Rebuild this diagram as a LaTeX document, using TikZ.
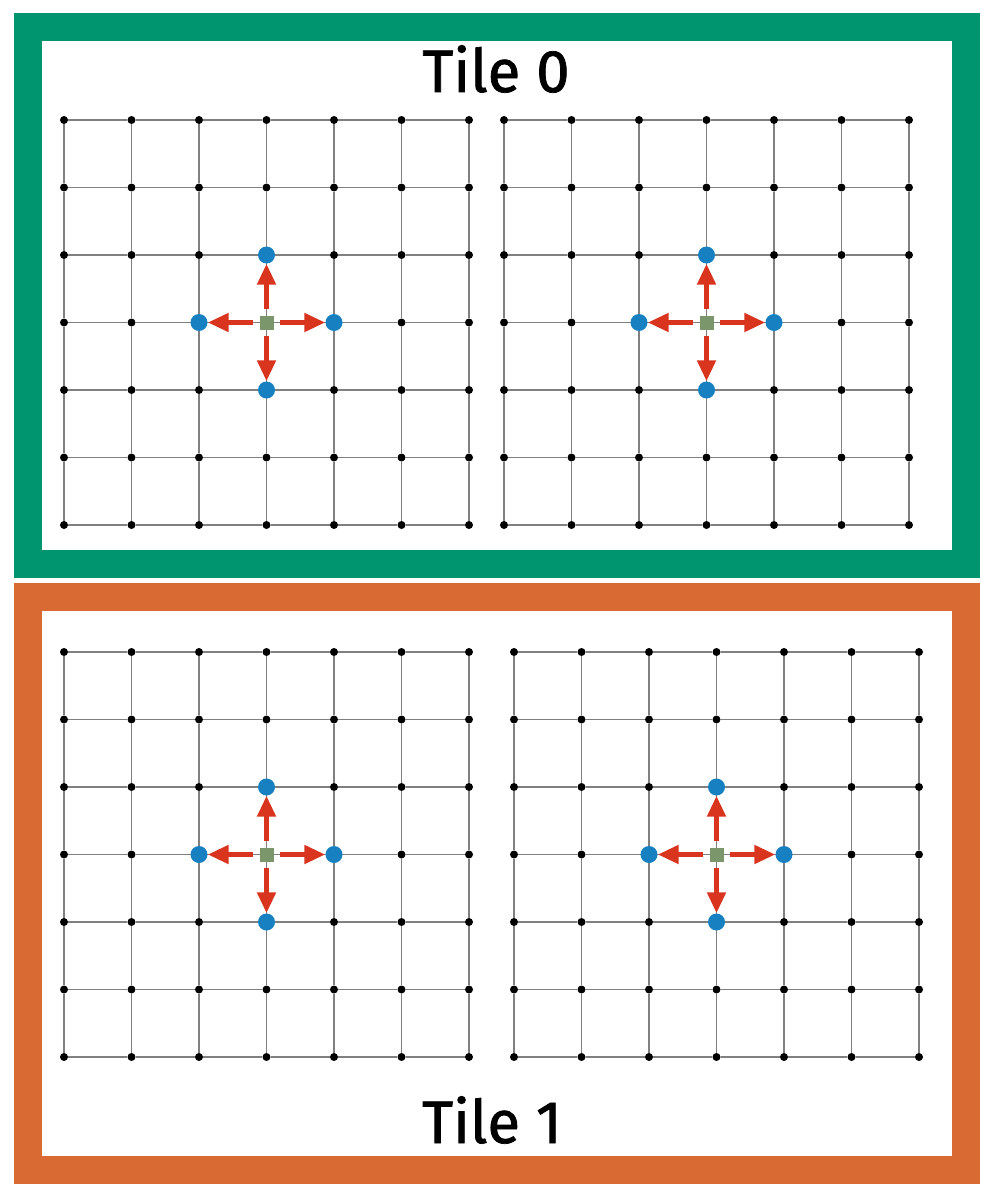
\documentclass[tikz,border=0pt]{standalone}
\usepackage{fontspec}
\setmainfont{Fira Sans}[FakeBold=1.2]
\usetikzlibrary{arrows.meta}
\definecolor{tilegreen}{RGB}{0,149,111}
\definecolor{tileorange}{RGB}{218,106,52}
\definecolor{nbrblue}{RGB}{22,128,193}
\definecolor{srcgreen}{RGB}{122,150,106}
\definecolor{pushred}{RGB}{217,52,30}
\definecolor{meshgray}{RGB}{128,128,128}
\tikzset{
  pt/.style    = {circle, fill=black, inner sep=0pt, minimum size=8pt},
  nbr/.style   = {circle, fill=nbrblue, inner sep=0pt, minimum size=17pt},
  src/.style   = {rectangle, fill=srcgreen, inner sep=0pt, minimum size=14pt},
  mesh/.style  = {draw=meshgray, line width=1.8pt},
  push/.style  = {-{Triangle[length=21pt,width=18pt]}, draw=pushred, fill=pushred, line width=5pt, shorten <=6pt},
  tile/.style  = {line width=28pt},
  title/.style = {font=\fontsize{60}{60}\selectfont, inner sep=0pt, anchor=base},
}
\begin{document}
\begin{tikzpicture}[x=1pt, y=-1pt]
  \useasboundingbox (0,0) rectangle (994,1196);
  % tile frames
  \draw[tile, draw=tilegreen] (28,27) rectangle (966,564);
  \draw[tile, draw=tileorange] (28,597) rectangle (966,1170);
  \node[title] (t0) at (496,92) {Tile 0};
  \node[title] (t1) at (492,1143) {Tile 1};
  % four meshes
  \foreach \g/\ox/\oy in {a/64/120, b/504/120, c/64/652, d/514/652} {
    \foreach \i in {0,...,6}
      \foreach \j in {0,...,6}
        \node[pt] (\g-\i-\j) at (\ox+\i*67.5, \oy+\j*67.5) {};
    \foreach \i in {0,...,6}
      \foreach \j [count=\k] in {0,...,5} {
        \draw[mesh] (\g-\i-\j) -- (\g-\i-\k);
        \draw[mesh] (\g-\j-\i) -- (\g-\k-\i);
      }
    % centre cell and its four neighbours
    \node[src] (\g-src) at (\g-3-3) {};
    \node[nbr] (\g-w) at (\g-2-3) {};
    \node[nbr] (\g-e) at (\g-4-3) {};
    \node[nbr] (\g-n) at (\g-3-2) {};
    \node[nbr] (\g-s) at (\g-3-4) {};
    \foreach \d in {w,e,n,s}
      \draw[push] (\g-src) -- (\g-\d);
  }
\end{tikzpicture}
\end{document}
